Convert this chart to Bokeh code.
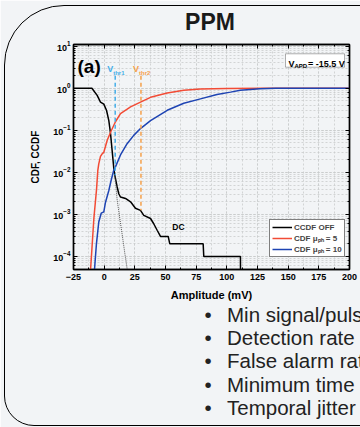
from bokeh.plotting import figure
from bokeh.layouts import column
from bokeh.models import (Range1d, LinearAxis, LogAxis, SingleIntervalTicker, LogTicker,
                          Label, BoxAnnotation, Legend, LegendItem, CustomJSTickFormatter,
                          Div)
from bokeh.embed import file_html
from bokeh.resources import INLINE

FONT = "Liberation Sans"

# ---------------- data ----------------
ccdf_x = [-25, -10.0, -5.7, -3.0, -0.3, 1.9, 3.8, 5.2, 6.5, 7.8, 8.7, 10.6, 11.9, 13.3,
          17.4, 21.5, 25.5, 29.6, 32.3, 37.8, 40.4, 43.2, 45.9, 52.2, 53.5, 80.7, 81.2,
          111.1, 111.2]
ccdf_y = [1.0, 1.0, 0.68, 0.47, 0.42, 0.30, 0.17, 0.083, 0.033, 0.013, 0.0085, 0.0045,
          0.0031, 0.0026, 0.0024, 0.0020, 0.0014, 0.00125, 0.00095, 0.0008, 0.0006,
          0.00042, 0.0003, 0.0003, 0.0002, 0.0002, 0.0001, 0.0001, 0.00001]

fit_x = [8.7, 10.6, 12.5, 14.7, 17.0, 19.0]
fit_y = [0.0085, 0.0022, 0.0009, 0.00033, 0.00011, 0.000045]

cdf5_x = [-11.3, -10.6, -8.4, -6.2, -5.2, -4.4, -3.0, -1.5, -0.3, 2.5, 5.2, 9.2, 13.3,
          21.5, 29.6, 37.8, 51.4, 64.9, 78.5, 100, 130, 200]
cdf5_y = [4e-5, 8e-5, 8e-4, 4e-3, 0.011, 0.016, 0.024, 0.028, 0.030, 0.058, 0.09, 0.16,
          0.25, 0.36, 0.47, 0.61, 0.77, 0.90, 0.96, 0.99, 1.0, 1.0]

cdf10_x = [-8.1, -6.3, -4.4, -2.4, -0.3, 1.1, 3.8, 5.7, 7.8, 9.2, 13.3, 18.7, 24.1, 29.6,
           37.8, 51.4, 64.9, 78.5, 92, 103, 111, 127, 140, 200]
cdf10_y = [4e-5, 2.0e-4, 6.6e-4, 1.07e-3, 1.15e-3, 1.95e-3, 3.7e-3, 6.5e-3, 0.0112, 0.0135,
           0.026, 0.048, 0.076, 0.11, 0.17, 0.30, 0.44, 0.56, 0.71, 0.81, 0.90, 0.98,
           1.0, 1.0]

vthr_x = [9, 30]
vthr_top = [2.0, 2.0]
vthr_bottom = [0.0085, 0.00125]
vthr_names = ["thr1", "thr2"]
vthr_colors = ["#45aee8", "#f5a04a"]

dc_x, dc_y = 60.5, 4.9e-4

slide_title = "PPM"
legend_labels = ["CCDF OFF", "CDF \u03bc\u209a\u2095 = 5", "CDF \u03bc\u209a\u2095 = 10"]
bullets = ["Min signal/pulse", "Detection rate", "False alarm rate",
           "Minimum time", "Temporal jitter"]

# ---------------- layout constants ----------------
W, H = 360, 427
L, R, T, B = 73, 349, 44, 269
BG = "#f2f4f6"


def sx(cx):
    return cx - L


def sy(cy):
    return B - cy


p = figure(width=W, height=H, x_range=Range1d(-25, 200), y_range=Range1d(4.9e-5, 11),
           y_axis_type="log", output_backend="svg", toolbar_location=None,
           min_border_left=L, min_border_right=W - R, min_border_top=T,
           min_border_bottom=H - B,
           background_fill_color=BG, border_fill_color=BG,
           outline_line_color="black", outline_line_width=1.4)

p.xaxis.ticker = SingleIntervalTicker(interval=25, num_minor_ticks=2)
p.add_layout(LinearAxis(ticker=SingleIntervalTicker(interval=25, num_minor_ticks=2),
                        formatter=CustomJSTickFormatter(code="return ''")), "above")
p.add_layout(LogAxis(ticker=LogTicker(), formatter=CustomJSTickFormatter(code="return ''")),
             "right")

for ax in p.axis:
    ax.major_tick_in = 4
    ax.major_tick_out = 0
    ax.minor_tick_in = 2
    ax.minor_tick_out = 0
    ax.axis_line_width = 1.4
    ax.major_tick_line_width = 1
    ax.major_label_text_font = FONT
    ax.major_label_text_font_style = "bold"
    ax.major_label_text_font_size = "9px"
    ax.major_label_text_color = "black"
    ax.axis_label_text_font = FONT
    ax.axis_label_text_font_style = "bold"
    ax.axis_label_text_color = "black"

for ax in p.above + p.right:
    ax.major_label_standoff = 0

p.below[0].major_label_standoff = 4
p.below[0].axis_label = "Amplitude (mV)"
p.below[0].axis_label_text_font_size = "11px"
p.below[0].axis_label_standoff = 6
p.left[0].axis_label = "CDF, CCDF"
p.left[0].axis_label_text_font_size = "10px"
p.left[0].axis_label_standoff = 9
p.left[0].major_label_standoff = 3

for g in (p.xgrid[0], p.ygrid[0]):
    g.grid_line_color = "#c9cbcd"
    g.grid_line_dash = "2 2"
    g.grid_line_width = 0.8
    g.minor_grid_line_color = "#c9cbcd"
    g.minor_grid_line_dash = "2 2"
    g.minor_grid_line_width = 0.8

# ---------------- marks ----------------
r_ccdf = p.line(ccdf_x, ccdf_y, line_color="black", line_width=1.5)
p.line(fit_x, fit_y, line_color="#555555", line_dash="1 1", line_width=1)
r5 = p.line(cdf5_x, cdf5_y, line_color="#f24b35", line_width=1.5)
r10 = p.line(cdf10_x, cdf10_y, line_color="#1e44b3", line_width=1.5)
p.segment(x0=vthr_x, y0=vthr_top, x1=vthr_x, y1=vthr_bottom, line_color=vthr_colors,
          line_dash="4 3", line_width=1.5)

legend = Legend(items=[LegendItem(label=legend_labels[0], renderers=[r_ccdf]),
                       LegendItem(label=legend_labels[1], renderers=[r5]),
                       LegendItem(label=legend_labels[2], renderers=[r10])],
                location=(196, 12), border_line_color="black", border_line_width=1,
                background_fill_color="white", background_fill_alpha=1,
                label_text_font=FONT, label_text_font_style="bold",
                label_text_font_size="8px", glyph_width=20, glyph_height=10,
                label_height=10, spacing=0, padding=2, label_standoff=2, margin=0)
p.add_layout(legend)

# ---------------- in-frame texts ----------------
def lab(x, y, text, size, style="normal", color="black", align="left",
        baseline="alphabetic", xu="screen", yu="screen", xo=0, yo=0):
    p.add_layout(Label(x=x, y=y, x_units=xu, y_units=yu, text=text, x_offset=xo,
                       y_offset=yo, text_font=FONT, text_font_size=size,
                       text_font_style=style, text_color=color, text_align=align,
                       text_baseline=baseline))


lab(sx(77), sy(66), "(a)", "19px", "bold")

for xv, nm, c in zip(vthr_x, vthr_names, vthr_colors):
    lab(xv, sy(68.5), "V", "9px", "bold", c, xu="data", xo=-8)
    lab(xv, sy(72), nm, "6px", "bold", c, xu="data", xo=-2)

p.add_layout(BoxAnnotation(left=sx(285), right=sx(344), top=sy(53.3), bottom=sy(66.7),
                           left_units="screen", right_units="screen",
                           top_units="screen", bottom_units="screen",
                           fill_color="white", fill_alpha=1, line_color="black",
                           line_width=1))
lab(sx(288), sy(63.5), "V", "9px", "bold")
lab(sx(294), sy(65.5), "APD", "6px", "bold")
lab(sx(307.5), sy(63.5), "= -15.5 V", "9px", "bold")

lab(dc_x, dc_y, "DC", "8.5px", "bold", align="center", baseline="middle",
    xu="data", yu="data")

# ---------------- slide overlay: frame, title, bullets ----------------
ff = "font-family:'Liberation Sans',Arial,sans-serif;"
BFS = 20.5
parts = ['<div style="position:relative;width:%dpx;height:%dpx;overflow:hidden;'
         'pointer-events:none;">' % (W, H)]
parts.append('<div style="position:absolute;left:4.25px;top:5.25px;width:430px;'
             'height:420.5px;border:1.5px solid #000;'
             'border-radius:60px 0 0 30px;"></div>')
parts.append('<div style="position:absolute;left:0;top:11px;width:420px;'
             'text-align:center;%sfont-size:23px;font-weight:bold;line-height:23px;'
             'color:#1a1a1a;">%s</div>' % (ff, slide_title))
for i, t in enumerate(bullets):
    top = 322 + i * 23.3 - BFS * 0.8465
    parts.append('<div style="position:absolute;left:204.5px;top:%.1fpx;%s'
                 'font-size:%.1fpx;line-height:%.1fpx;color:#222;">&#8226;</div>'
                 % (top, ff, BFS, BFS))
    parts.append('<div style="position:absolute;left:227px;top:%.1fpx;%s'
                 'font-size:%.1fpx;line-height:%.1fpx;color:#222;white-space:nowrap;">'
                 '%s</div>' % (top, ff, BFS, BFS, t))
parts.append('</div>')
overlay = Div(text="".join(parts), width=W, height=H, margin=(-H, 0, 0, 0))

layout = column(p, overlay, width=W, height=H)

open("out.html", "w").write(file_html(layout, INLINE))
